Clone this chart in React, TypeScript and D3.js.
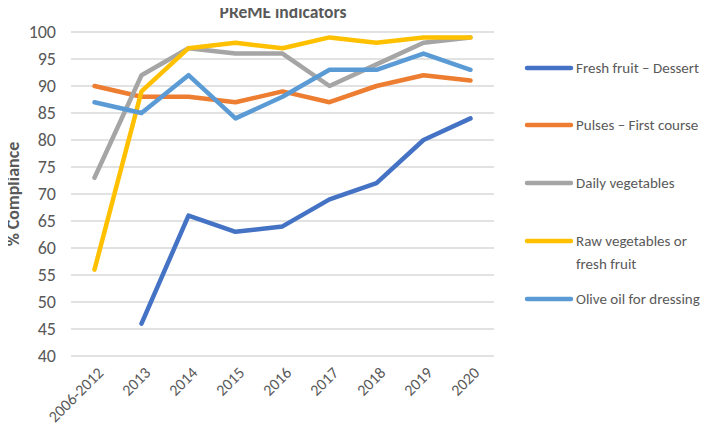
import * as d3 from "d3";

// Chart data
const categories = ["2006-2012", "2013", "2014", "2015", "2016", "2017", "2018", "2019", "2020"];
const seriesNames = [
  "Fresh fruit – Dessert",
  "Pulses – First course",
  "Daily vegetables",
  "Raw vegetables or fresh fruit",
  "Olive oil for dressing",
];
const freshFruit = [null, 46, 66, 63, 64, 69, 72, 80, 84];
const pulses = [90, 88, 88, 87, 89, 87, 90, 92, 91];
const dailyVeg = [73, 92, 97, 96, 96, 90, 94, 98, 99];
const rawVeg = [56, 89, 97, 98, 97, 99, 98, 99, 99];
const oliveOil = [87, 85, 92, 84, 88, 93, 93, 96, 93];
const yTicks = [40, 45, 50, 55, 60, 65, 70, 75, 80, 85, 90, 95, 100];

const colors = ["#4472C4", "#ED7D31", "#A5A5A5", "#FFC000", "#5B9BD5"];
const seriesValues = [freshFruit, pulses, dailyVeg, rawVeg, oliveOil];

// legend labels may wrap
const legendLines: string[][] = [
  ["Fresh fruit – Dessert"],
  ["Pulses – First course"],
  ["Daily vegetables"],
  ["Raw vegetables or", "fresh fruit"],
  ["Olive oil for dressing"],
];

const W = 708;
const H = 436;
const font = "Carlito, Lato, 'Open Sans', sans-serif";

export default function App() {
  const plot = { left: 71, right: 494, top: 32, bottom: 356 };

  const x = d3.scaleBand<string>().domain(categories).range([plot.left, plot.right]);
  const y = d3.scaleLinear().domain([40, 100]).range([plot.bottom, plot.top]);
  const cx = (c: string) => (x(c) ?? 0) + x.bandwidth() / 2;

  const line = d3
    .line<number | null>()
    .defined((d) => d !== null)
    .x((_, i) => cx(categories[i]))
    .y((d) => y(d as number));

  const legendY = [68, 125, 183, 241, 299];

  return (
    <div style={{ margin: -8 }}>
      <svg width={W} height={H} style={{ display: "block", background: "#fff" }} fontFamily={font}>
        {/* title */}
        <text x={283} y={18} textAnchor="middle" fontSize={17.5} fontWeight={700} fill="#595959">
          PReME indicators
        </text>

        {/* gridlines + y ticks */}
        {yTicks.map((t) => (
          <g key={t}>
            <line x1={plot.left} x2={plot.right} y1={y(t)} y2={y(t)} stroke="#D9D9D9" strokeWidth={1.3} />
            <text x={56} y={y(t)} textAnchor="end" dominantBaseline="central" fontSize={18} fill="#595959">
              {t}
            </text>
          </g>
        ))}

        {/* y axis title */}
        <text
          transform={`translate(13,${(plot.top + plot.bottom) / 2}) rotate(-90)`}
          textAnchor="middle"
          dominantBaseline="central"
          fontSize={18}
          fontWeight={700}
          fill="#595959"
        >
          % Compliance
        </text>

        {/* x labels */}
        {categories.map((c) => (
          <text
            key={c}
            transform={`translate(${cx(c) + 6},${plot.bottom + 14}) rotate(-45)`}
            textAnchor="end"
            dominantBaseline="central"
            fontSize={16}
            fill="#595959"
          >
            {c}
          </text>
        ))}

        {/* series */}
        {seriesValues.map((vals, i) => (
          <path
            key={seriesNames[i]}
            d={line(vals) ?? ""}
            fill="none"
            stroke={colors[i]}
            strokeWidth={4.5}
            strokeLinejoin="round"
            strokeLinecap="round"
          />
        ))}

        {/* legend */}
        {seriesNames.map((name, i) => (
          <g key={name}>
            <line
              x1={527}
              x2={571}
              y1={legendY[i]}
              y2={legendY[i]}
              stroke={colors[i]}
              strokeWidth={4.5}
              strokeLinecap="round"
            />
            {legendLines[i].map((l, j) => (
              <text
                key={l}
                x={576}
                y={legendY[i] + j * 23}
                dominantBaseline="central"
                fontSize={15}
                fill="#595959"
              >
                {l}
              </text>
            ))}
          </g>
        ))}
      </svg>
    </div>
  );
}
